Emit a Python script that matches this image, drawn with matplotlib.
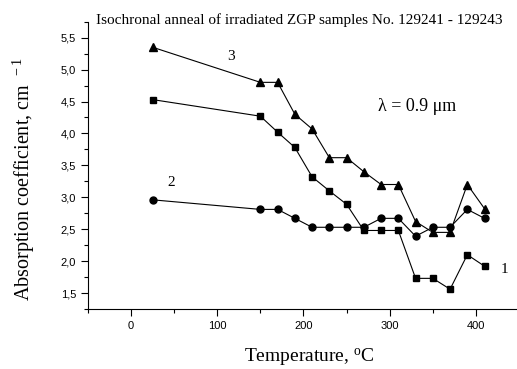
import matplotlib.pyplot as plt
from matplotlib.ticker import MultipleLocator, FuncFormatter

temp = [25, 150, 170, 190, 210, 230, 250, 270, 290, 310, 330, 350, 370, 390, 410]
curve1 = [4.53, 4.27, 4.02, 3.78, 3.32, 3.10, 2.89, 2.48, 2.48, 2.48, 1.73, 1.73, 1.56, 2.10, 1.92]
curve2 = [2.96, 2.81, 2.81, 2.67, 2.53, 2.53, 2.53, 2.53, 2.67, 2.67, 2.39, 2.53, 2.53, 2.81, 2.67]
curve3 = [5.35, 4.80, 4.80, 4.30, 4.07, 3.62, 3.62, 3.40, 3.20, 3.20, 2.62, 2.45, 2.45, 3.20, 2.82]

serif = 'Liberation Serif'
sans = 'Liberation Sans'
plt.rcParams['mathtext.fontset'] = 'custom'
plt.rcParams['mathtext.rm'] = serif
plt.rcParams['mathtext.it'] = serif + ':italic'

fig = plt.figure(figsize=(5.17, 3.69), dpi=100)
ax = fig.add_axes([0.170, 0.1626, 0.834, 0.7786])

ax.plot(temp, curve1, 'k-', marker='s', ms=5, lw=0.8)
ax.plot(temp, curve2, 'k-', marker='o', ms=5, lw=0.8)
ax.plot(temp, curve3, 'k-', marker='^', ms=6, lw=0.8)

ax.set_xlim(-50, 450)
ax.set_ylim(1.25, 5.75)
ax.xaxis.set_major_locator(MultipleLocator(100))
ax.xaxis.set_minor_locator(MultipleLocator(50))
ax.yaxis.set_major_locator(MultipleLocator(0.5))
ax.yaxis.set_minor_locator(MultipleLocator(0.25))
ax.yaxis.set_major_formatter(FuncFormatter(lambda v, p: f'{v:.1f}'.replace('.', ',')))
ax.spines['top'].set_visible(False)
ax.spines['right'].set_visible(False)
ax.tick_params(which='major', direction='out', length=5, width=0.8, labelsize=8)
ax.tick_params(which='minor', direction='out', length=3, width=0.8)
for lab in ax.get_xticklabels() + ax.get_yticklabels():
    lab.set_family(sans)

ax.text(116, 5.2, '3', fontsize=11, family=serif, ha='center', va='center')
ax.text(47, 3.23, '2', fontsize=11, family=serif, ha='center', va='center')
ax.text(433, 1.87, '1', fontsize=11, family=serif, ha='center', va='center')
ax.text(332, 4.42, 'λ = 0.9 μm', fontsize=13, family=serif, ha='center', va='center')

fig.text(0.578, 0.945, 'Isochronal anneal of irradiated ZGP samples No. 129241 - 129243',
         fontsize=11, family=serif, ha='center', va='center')
fig.text(0.046, 0.515, 'Absorption coefficient, cm$^{\\ \\ -1}$', fontsize=14.5, family=serif,
         rotation=90, ha='center', va='center')
fig.text(0.598, 0.033, 'Temperature, $^{\\mathrm{o}}$C', fontsize=14, family=serif,
         ha='center', va='center')

fig.savefig('out.png', dpi=100)
